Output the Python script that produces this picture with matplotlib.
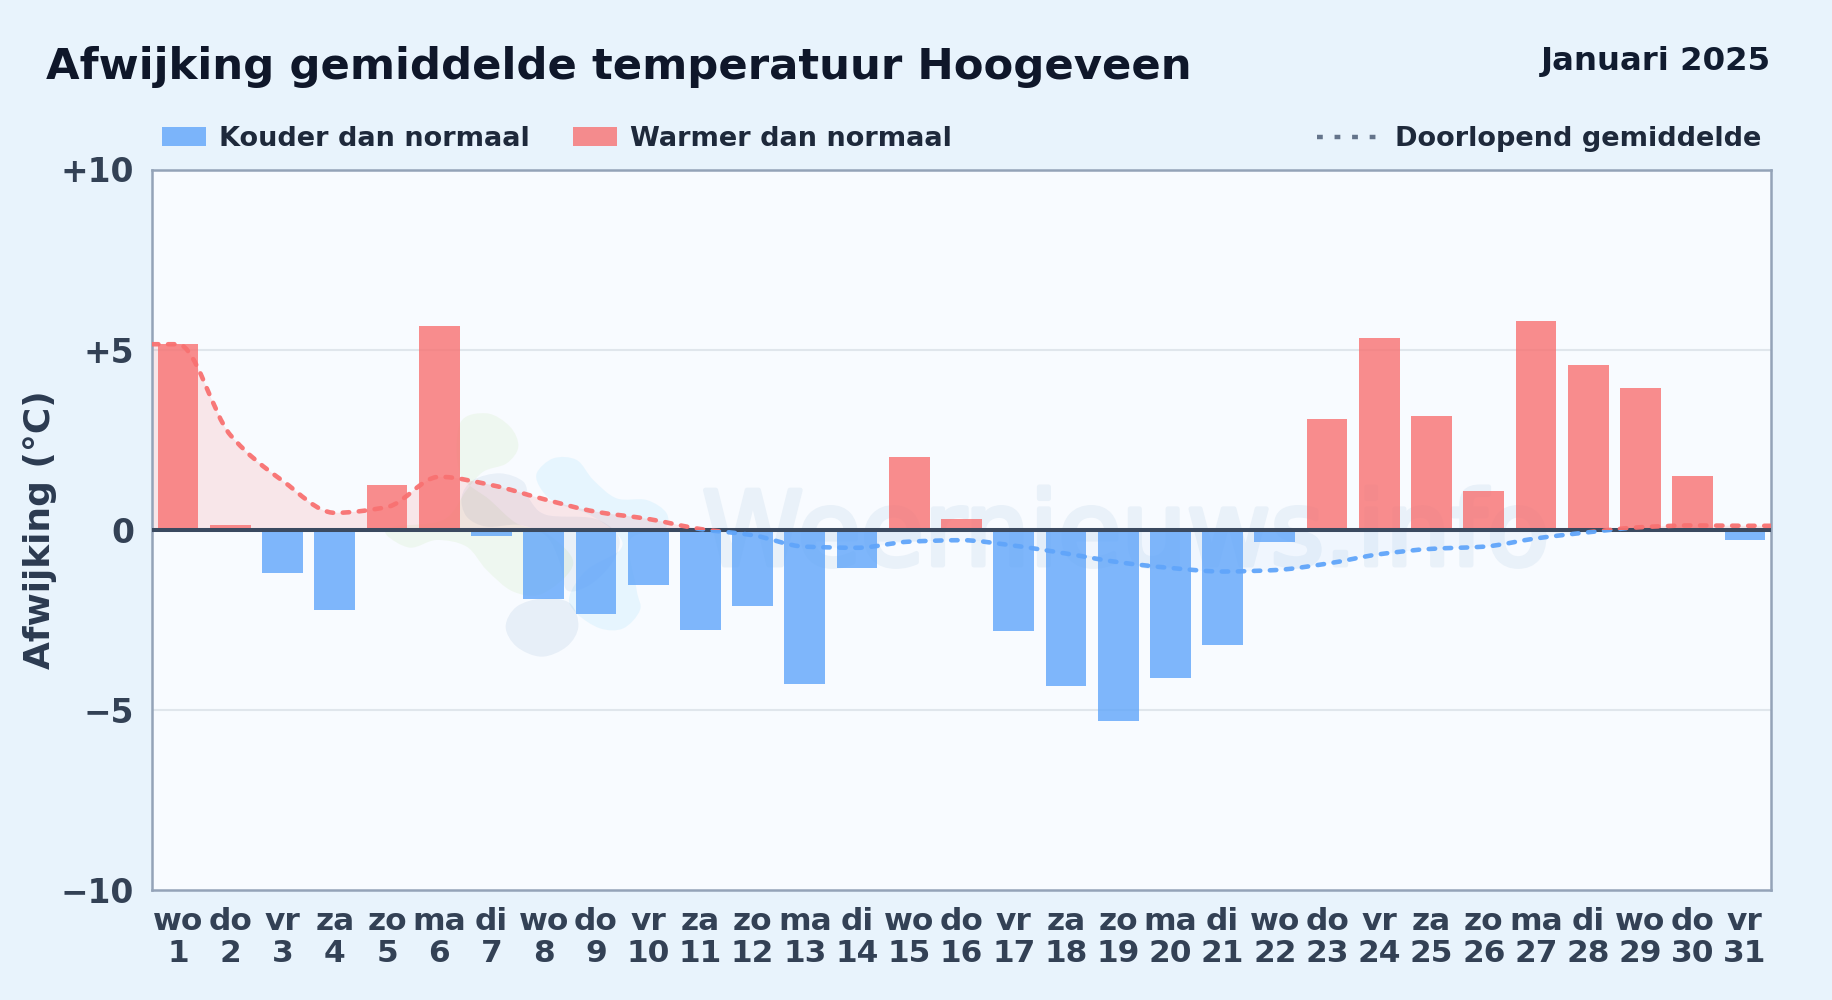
import numpy as np
import matplotlib
matplotlib.use("Agg")
import matplotlib.pyplot as plt
import matplotlib.patheffects as pe
from matplotlib.path import Path
from matplotlib.patches import PathPatch, Rectangle
from matplotlib.transforms import Affine2D

weekdays = ["wo", "do", "vr", "za", "zo", "ma", "di"] * 4 + ["wo", "do", "vr"]
days = list(range(1, 32))
afwijking = [5.15, 0.12, -1.2, -2.22, 1.25, 5.65, -0.17, -1.93, -2.33, -1.53, -2.77,
             -2.13, -4.27, -1.05, 2.03, 0.3, -2.8, -4.33, -5.3, -4.12, -3.2, -0.33,
             3.08, 5.33, 3.15, 1.07, 5.8, 4.57, 3.93, 1.5, -0.28]
gemiddelde = [5.15, 2.63, 1.36, 0.47, 0.63, 1.47, 1.24, 0.85, 0.5, 0.3, 0.02,
              -0.15, -0.47, -0.5, -0.33, -0.29, -0.44, -0.66, -0.9, -1.06, -1.16,
              -1.12, -0.94, -0.68, -0.53, -0.47, -0.24, -0.07, 0.07, 0.12, 0.11]
yticks = [-10, -5, 0, 5, 10]
yticklabels = ["\u221210", "\u22125", "0", "+5", "+10"]

plt.rcParams["font.family"] = "DejaVu Sans"
plt.rcParams["font.weight"] = "bold"

W, H = 1832, 1000
BG = "#e8f3fc"
BLUE = "#60a5fa"
RED = "#f87171"
AX_LEFT, AX_RIGHT = 152, 1771

fig = plt.figure(figsize=(W / 100, H / 100), dpi=100, facecolor=BG)
ax = fig.add_axes([AX_LEFT / W, 1 - 890 / H, (AX_RIGHT - AX_LEFT) / W, (890 - 169.5) / H])
ax.set_facecolor("#f8fbff")

# pixel coordinates, y down, for everything outside the data
px = Affine2D().scale(1, -1).translate(0, H)


def smooth_closed(pts):
    pts = np.array(pts, float)
    n = len(pts)
    verts = [pts[0]]
    codes = [Path.MOVETO]
    for i in range(n):
        p0, p1, p2, p3 = pts[i - 1], pts[i], pts[(i + 1) % n], pts[(i + 2) % n]
        verts += [p1 + (p2 - p0) / 6, p2 - (p3 - p1) / 6, p2]
        codes += [Path.CURVE4] * 3
    return Path(verts, codes)


def monotone(x, y):
    # bezier through the values, flat at local extremes
    x = np.array(x, float)
    y = np.array(y, float)
    h = np.diff(x)
    s = np.diff(y) / h
    m = np.zeros(len(x))
    for i in range(1, len(x) - 1):
        if s[i - 1] * s[i] > 0:
            m[i] = 2 * s[i - 1] * s[i] / (s[i - 1] + s[i])
    m[-1] = s[-1]
    verts = [(x[0], y[0])]
    codes = [Path.MOVETO]
    for i in range(len(x) - 1):
        verts += [(x[i] + h[i] / 3, y[i] + m[i] * h[i] / 3),
                  (x[i + 1] - h[i] / 3, y[i + 1] - m[i + 1] * h[i] / 3),
                  (x[i + 1], y[i + 1])]
        codes += [Path.CURVE4] * 3
    return verts, codes


logo_tf = Affine2D().scale(1 / 3).translate(360, 390) + px
logo_green = [(300, 100), (380, 70), (450, 110), (475, 170), (440, 220), (370, 245),
              (320, 300), (250, 390), (100, 410), (80, 435), (150, 473), (230, 450),
              (320, 470), (380, 540), (460, 605), (550, 610), (640, 520), (560, 430),
              (470, 400), (390, 330), (300, 250)]
logo_dark = [(305, 320), (340, 270), (420, 250), (490, 275), (510, 330), (560, 375),
             (700, 385), (770, 430), (775, 480), (740, 540), (680, 590), (620, 600),
             (600, 520), (560, 440), (480, 405), (380, 410), (320, 380)]
logo_blue = [(530, 250), (580, 205), (650, 210), (700, 270), (770, 325), (860, 330),
             (920, 370), (910, 420), (810, 450), (830, 600), (840, 660), (790, 715),
             (720, 715), (650, 670), (628, 620), (680, 540), (780, 480), (770, 430),
             (680, 370), (590, 340), (545, 300)]
logo_low = [(437, 710), (470, 650), (550, 625), (630, 640), (655, 710), (620, 770),
            (545, 800), (470, 770)]
for pts, col, a in [(logo_green, "#a3d977", 0.11), (logo_blue, "#38bdf8", 0.09),
                    (logo_dark, "#2563a8", 0.07), (logo_low, "#2563a8", 0.08)]:
    blob = PathPatch(smooth_closed(pts), facecolor=col, edgecolor="none", alpha=a,
                     transform=logo_tf, zorder=1)
    blob.set_clip_on(False)
    ax.add_patch(blob)

ax.text(702, 565, "Weernieuws.info", transform=px, fontsize=74, fontweight="normal",
        color="#e9f1f9", ha="left", va="baseline", zorder=1,
        path_effects=[pe.Stroke(linewidth=3.5, foreground="#e9f1f9"), pe.Normal()])

bar_colors = [RED if v >= 0 else BLUE for v in afwijking]
ax.bar(days, afwijking, width=0.78, color=bar_colors, alpha=0.8, zorder=2)

ax.set_xlim(0.5, 31.5)
ax.set_ylim(-10, 10)

# running mean, held flat out to both axis edges
line_x = [0.5] + days + [31.5]
line_y = [gemiddelde[0]] + gemiddelde + [gemiddelde[-1]]
verts, codes = monotone(line_x, line_y)
area_verts = verts + [(31.5, 0), (0.5, 0), (0.5, line_y[0])]
area_codes = codes + [Path.LINETO] * 3
upper = Rectangle((0.5, 0), 31, 10, transform=ax.transData)
lower = Rectangle((0.5, -10), 31, 10, transform=ax.transData)
for clip, col, a in [(upper, RED, 0.15), (lower, BLUE, 0.05)]:
    area = PathPatch(Path(area_verts, area_codes), facecolor=col, edgecolor="none",
                     alpha=a, zorder=1.5)
    ax.add_patch(area)
    area.set_clip_path(clip)
    curve = PathPatch(Path(verts, codes), facecolor="none", edgecolor=col, lw=3.3,
                      alpha=0.95, linestyle=(0, (1.4, 2.1)), capstyle="round", zorder=4)
    ax.add_patch(curve)
    curve.set_clip_path(clip)

ax.axhline(0, color="#3b4a60", lw=2.9, zorder=3)
for v in [-5, 5]:
    ax.axhline(v, color="#e0e6ec", lw=1.5, zorder=0.5)

for s in ax.spines.values():
    s.set_color("#94a3b8")
    s.set_linewidth(1.8)

ax.set_xticks(days)
ax.set_xticklabels([f"{d}\n{n}" for d, n in zip(weekdays, days)], linespacing=1.16)
ax.set_yticks(yticks)
ax.set_yticklabels(yticklabels)
ax.tick_params(axis="both", length=0, labelcolor="#334155")
ax.tick_params(axis="y", pad=13, labelsize=23.7)
ax.tick_params(axis="x", pad=12, labelsize=22.5)
ax.set_ylabel("Afwijking (\u00b0C)", fontsize=25.9, fontweight="bold", color="#2b3a50",
              va="center")
ax.yaxis.set_label_coords((40 - AX_LEFT) / (AX_RIGHT - AX_LEFT), 0.5)

# title and legend row sit outside the axes
fig.text(46.5, 79, "Afwijking gemiddelde temperatuur Hoogeveen", transform=px,
         fontsize=31.2, color="#0f172a", ha="left", va="baseline")
fig.text(1771, 70, "Januari 2025", transform=px, fontsize=23.3, color="#111c30",
         ha="right", va="baseline")

for x0, col, label, tx in [(162, BLUE, "Kouder dan normaal", 219),
                           (573, RED, "Warmer dan normaal", 630)]:
    fig.patches.append(Rectangle((x0, 127), 44, 19, facecolor=col, alpha=0.8,
                                 edgecolor="none", transform=px, figure=fig))
    fig.text(tx, 146, label, transform=px, fontsize=19.5, color="#1e293b",
             ha="left", va="baseline")
fig.add_artist(plt.Line2D([1317, 1376], [137, 137], transform=px, color="#64748b",
                          lw=3.2, linestyle=(0, (1.3, 2.65)), dash_capstyle="butt"))
fig.text(1395, 146, "Doorlopend gemiddelde", transform=px, fontsize=19.5, color="#1e293b",
         ha="left", va="baseline")

fig.savefig("out.png", dpi=100, facecolor=BG)
